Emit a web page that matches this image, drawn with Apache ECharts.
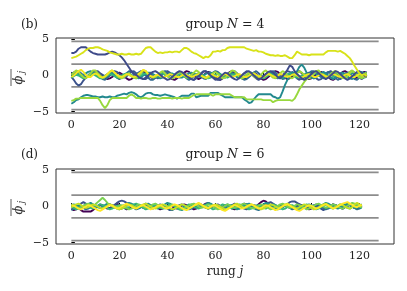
<!DOCTYPE html>
<html><head><meta charset="utf-8">
<script src="https://cdn.jsdelivr.net/npm/echarts@6/dist/echarts.min.js"></script>
<style>html,body{margin:0;padding:0;background:#fff}#c{width:407px;height:291px}</style>
</head><body><div id="c"></div>
<script>
const xTicks=[0,20,40,60,80,100,120];
const yTicks=[-5,0,5];
const refLevels=[-4.712,-1.571,1.571,4.712];
const refSpan=[0,128];

// ---- group N = 4 (rungs 0..123) ----
const n4_blue=[
3.1,3.1,3.3,3.7,3.9,3.9,3.9,3.6,3.3,3.1,
3.0,2.9,2.9,2.9,2.9,3.0,3.2,3.3,3.2,3.0,
2.8,2.5,2.1,1.6,1.1,0.6,0.2,0.1,-0.2,-0.4,
-0.5,-0.3,0,0.3,0.5,0.6,0.4,0.1,-0.2,-0.4,
-0.6,-0.5,-0.2,0.1,0.4,0.6,0.5,0.2,-0.1,-0.3,
-0.5,-0.6,-0.4,-0.1,0.2,0.5,0.6,0.3,0,-0.3,
-0.6,-0.5,-0.2,0.1,0.4,0.3,0,-0.3,-0.5,-0.6,
-0.3,0,0.3,0.5,0.6,0.3,0,-0.3,-0.5,-0.4,
-0.1,0.2,0.5,0.6,0.4,0.1,-0.2,-0.4,-0.1,0.3,
0.8,1.4,1.2,0.6,0.2,-0.1,-0.4,-0.6,-0.4,-0.1,
0.2,0.5,0.6,0.3,0,-0.3,-0.5,-0.3,0,0.3,
0.6,0.5,0.2,-0.1,-0.4,-0.6,-0.4,-0.1,0.2,0.5,
0.6,0.3,0,-0.2];
const n4_yellow=[
2.4,2.5,2.6,2.8,3.0,3.2,3.5,3.7,3.8,3.8,
3.9,3.9,3.8,3.6,3.5,3.4,3.2,3.1,3.0,2.9,
2.9,3.0,2.9,2.9,3.0,2.9,2.9,3.0,2.9,3.0,
3.4,3.8,3.9,3.9,3.6,3.3,3.1,3.2,3.1,3.2,
3.2,3.3,3.2,3.3,3.3,3.2,3.5,3.8,3.8,3.6,
3.3,3.1,3.0,2.8,2.6,2.4,2.6,2.5,2.8,3.3,
3.3,3.4,3.3,3.5,3.5,3.8,3.9,3.9,3.9,3.9,
3.9,3.9,3.9,3.7,3.6,3.5,3.4,3.5,3.3,3.3,
3.2,3.0,2.9,2.8,2.8,2.7,2.8,2.7,2.7,2.8,
2.6,2.4,2.4,2.8,3.3,3.1,2.9,2.9,2.9,2.8,
2.9,2.9,2.9,2.9,2.9,2.9,3.2,3.4,3.4,3.4,
3.4,3.3,3.4,3.2,3.0,2.7,2.4,1.9,1.3,0.8,
0.3,0.0,0.2,-0.1];
const n4_teal=[
-3.9,-3.7,-3.4,-3.3,-3.0,-2.8,-2.7,-2.7,-2.8,-2.9,
-2.9,-3.0,-3.0,-2.9,-3.0,-3.0,-2.9,-3.0,-3.0,-2.8,
-2.7,-2.6,-2.5,-2.6,-2.4,-2.3,-2.4,-2.6,-2.9,-3.0,
-2.8,-2.5,-2.4,-2.4,-2.6,-2.7,-2.7,-2.8,-2.7,-2.6,
-2.7,-2.8,-2.9,-3.0,-3.2,-3.0,-2.8,-2.8,-2.8,-2.8,
-2.5,-2.5,-3.0,-2.9,-2.8,-2.8,-2.8,-2.8,-2.4,-2.4,
-2.4,-2.4,-2.6,-2.8,-3.0,-3.0,-3.0,-3.0,-3.0,-3.0,
-3.0,-3.0,-3.3,-3.5,-3.8,-3.7,-3.3,-2.9,-2.6,-2.6,
-2.6,-2.6,-2.6,-2.6,-2.9,-3.0,-3.2,-3.0,-2.2,-1.3,
-0.6,-0.1,0.2,0.3,0.6,1.2,1.5,1.1,0.4,0.1,
-0.2,-0.4,-0.2,0.1,0.3,0.5,0.3,0,-0.3,-0.5,
-0.3,0,0.3,0.4,0.2,-0.1,-0.4,-0.5,-0.2,0.1,
0.4,0.5,0.2,-0.1];
const n4_green=[
-3.5,-3.4,-3.2,-3.2,-3.1,-3.1,-3.1,-3.1,-3.1,-3.1,
-3.1,-3.1,-3.5,-4.1,-4.5,-4.1,-3.4,-3.1,-3.1,-3.1,
-3.1,-3.1,-3.1,-3.1,-2.8,-2.6,-2.8,-3.1,-3.1,-3.2,
-3.1,-3.1,-3.2,-3.2,-3.1,-3.1,-3.2,-3.2,-3.1,-3.1,
-3.1,-3.1,-3.2,-3.1,-3.1,-3.1,-3.2,-3.1,-3.1,-3.1,
-2.9,-2.7,-2.6,-2.6,-2.6,-2.6,-2.6,-2.6,-2.6,-2.8,
-2.6,-2.6,-2.6,-2.6,-2.6,-2.6,-2.6,-2.8,-3.0,-3.0,
-3.0,-3.0,-3.0,-3.3,-3.3,-3.3,-3.3,-3.3,-3.3,-3.3,
-3.4,-3.4,-3.4,-3.4,-3.7,-3.5,-3.4,-3.4,-3.4,-3.4,
-3.4,-3.4,-3.5,-3.2,-2.6,-1.9,-1.4,-0.9,-0.5,-0.2,
0.1,0.4,0.6,0.4,0.1,-0.2,-0.4,-0.2,0.2,0.5,
0.6,0.3,0,-0.3,-0.4,-0.1,0.3,0.6,0.4,0.1,
-0.2,-0.4,-0.1,0.2];
const n4_c1=[
0.2,0.4,0.6,0.4,0.2,-0.1,-0.3,-0.2,0.1,0.3,
0.5,0.4,0.2,0,-0.3,-0.5,-0.4,-0.2,0.1,0.3,
0.4,0.2,-0.1,-0.4,-0.6,-0.5,-0.2,0,0.3,0.5,
0.6,0.4,0.1,-0.2,-0.4,-0.3,0,0.2,0.4,0.3,
0,-0.3,-0.5,-0.6,-0.4,-0.1,0.2,0.4,0.6,0.5,
0.2,0,-0.3,-0.5,-0.3,0,0.3,0.5,0.4,0.1,
-0.2,-0.5,-0.6,-0.4,-0.1,0.2,0.5,0.6,0.4,0.1,
-0.1,-0.4,-0.5,-0.3,0,0.3,0.4,0.2,-0.1,-0.4,
-0.6,-0.5,-0.2,0.1,0.4,0.6,0.5,0.2,-0.1,-0.3,
-0.5,-0.4,-0.1,0.2,0.5,0.6,0.3,0,-0.3,-0.5,
-0.4,-0.1,0.2,0.4,0.5,0.3,0,-0.2,-0.5,-0.6,
-0.4,-0.1,0.2,0.5,0.6,0.4,0.1,-0.2,-0.4,-0.3,
0,0.3,0.5,0.4];
const n4_c2=[
-0.2,-0.6,-1.1,-1.4,-1.2,-0.7,-0.3,0,0.3,0.5,
0.6,0.6,0.3,0.1,-0.2,-0.2,0.1,0.4,0.6,0.5,
0.2,-0.1,-0.3,-0.1,0.2,0.5,0.6,0.3,0,-0.3,
-0.5,-0.5,-0.2,0.1,0.1,-0.2,-0.4,-0.2,0.2,0.5,
0.6,0.4,0.1,-0.2,-0.3,-0.1,0.2,0.3,0.1,-0.2,
-0.5,-0.6,-0.3,0,0.3,0.6,0.6,0.3,0.1,-0.2,
-0.4,-0.6,-0.6,-0.3,0,0.2,0.4,0.4,0.1,-0.2,
-0.3,0,0.3,0.6,0.5,0.2,-0.1,-0.4,-0.6,-0.4,
-0.1,0.2,0.4,0.3,0,-0.3,-0.4,-0.2,0.1,0.3,
0.6,0.5,0.2,-0.1,-0.4,-0.6,-0.3,0,0.3,0.4,
0.2,-0.1,-0.4,-0.6,-0.5,-0.2,0.1,0.4,0.6,0.4,
0.1,-0.2,-0.5,-0.3,0,0.3,0.5,0.6,0.3,0,
-0.3,-0.5,-0.2,0.1];
const n4_c3=[
0.4,0.3,0.5,0.6,0.3,0,-0.2,0,0.3,0.6,
0.4,0.1,-0.2,-0.5,-0.6,-0.3,0,0.2,0,-0.3,
-0.5,-0.3,0,0.3,0.6,0.6,0.3,0.2,0.4,0.6,
0.3,0,-0.3,-0.6,-0.6,-0.3,-0.1,0.2,0.5,0.6,
0.4,0.1,-0.1,0.1,0.4,0.5,0.2,-0.1,-0.4,-0.6,
-0.4,-0.1,0.2,0.2,-0.1,-0.4,-0.5,-0.2,0.1,0.4,
0.6,0.5,0.2,-0.1,-0.3,-0.1,0.2,0.5,0.6,0.3,
0,-0.3,-0.6,-0.5,-0.2,0.1,0.4,0.6,0.3,0,
-0.2,-0.1,0.2,0.5,0.6,0.4,0.1,-0.2,-0.5,-0.4,
-0.1,0.2,0.5,0.3,0,-0.3,-0.5,-0.3,0,0.3,
0.6,0.6,0.3,0,-0.2,0,0.3,0.5,0.3,0,
-0.3,-0.6,-0.4,-0.1,0.2,0.4,0.1,-0.2,-0.5,-0.6,
-0.3,0,0.3,0.5];
const n4_c4=[
0,0.2,0.3,0.2,0,0.1,0.3,0.5,0.6,0.4,
0.2,0,-0.2,-0.2,0,0.2,0.4,0.3,0.1,-0.1,
-0.3,-0.2,0,0.2,0.3,0.1,-0.1,-0.3,-0.4,-0.2,
0,0.2,0.4,0.4,0.2,0,-0.2,-0.4,-0.3,-0.1,
0.1,0.3,0.3,0.1,-0.1,-0.3,-0.3,-0.1,0.1,0.3,
0.4,0.3,0.1,-0.1,-0.2,0,0.2,0.4,0.4,0.2,
0,-0.2,-0.3,-0.2,0,0.2,0.3,0.2,0,-0.2,
-0.4,-0.3,-0.1,0.1,0.3,0.4,0.2,0,-0.2,-0.3,
-0.1,0.1,0.3,0.4,0.3,0.1,-0.1,-0.3,-0.4,-0.2,
0,0.2,0.4,0.3,0.1,-0.1,-0.3,-0.2,0,0.2,
0.3,0.4,0.2,0,-0.2,-0.4,-0.3,-0.1,0.1,0.3,
0.4,0.2,0,-0.2,-0.3,-0.1,0.1,0.3,0.4,0.2,
0,-0.2,-0.1,0.1];
const n4_c5=[
-0.3,-0.1,0.1,0,-0.2,-0.4,-0.3,-0.1,0.1,0.2,
0,-0.2,-0.4,-0.4,-0.2,0,0.2,0.1,-0.1,-0.3,
-0.2,0,0.2,0.3,0.1,-0.1,-0.3,-0.4,-0.2,0,
0.2,0.3,0.1,-0.1,-0.3,-0.2,0,0.2,0.3,0.1,
-0.1,-0.3,-0.4,-0.2,0,0.2,0.1,-0.1,-0.3,-0.4,
-0.2,0,0.2,0.3,0.2,0,-0.2,-0.4,-0.3,-0.1,
0.1,0.3,0.2,0,-0.2,-0.3,-0.1,0.1,0.2,0,
-0.2,-0.4,-0.3,-0.1,0.1,0.3,0.3,0.1,-0.1,-0.3,
-0.4,-0.2,0,0.2,0.1,-0.1,-0.3,-0.4,-0.2,0,
0.2,0.3,0.1,-0.1,-0.3,-0.2,0,0.2,0.1,-0.1,
-0.3,-0.4,-0.2,0,0.2,0.3,0.1,-0.1,-0.3,-0.2,
0,0.2,0.3,0.1,-0.1,-0.3,-0.4,-0.2,0,0.2,
0.1,-0.1,-0.3,-0.2];
const n4_c6=[
0.1,0.4,0.7,0.5,0.1,-0.2,-0.4,-0.1,0.3,0.7,
0.7,0.3,0,-0.3,-0.2,0.1,0.5,0.7,0.4,0,
-0.3,-0.4,-0.2,0.1,0.3,0,-0.3,-0.4,-0.1,0.3,
0.7,0.6,0.2,-0.1,-0.3,-0.2,0.1,0.4,0.6,0.3,
-0.1,-0.3,-0.4,-0.2,0.2,0.5,0.3,0,-0.3,-0.2,
0.1,0.4,0.7,0.5,0.1,-0.2,-0.4,-0.3,0,0.3,
0.5,0.2,-0.1,-0.4,-0.3,0,0.4,0.7,0.6,0.2,
-0.2,-0.4,-0.2,0.1,0.4,0.2,-0.1,-0.4,-0.3,0.1,
0.5,0.7,0.4,0,-0.3,-0.4,-0.1,0.3,0.6,0.4,
0,-0.3,-0.4,-0.1,0.3,0.6,0.4,0.1,-0.2,-0.4,
-0.2,0.2,0.6,0.7,0.3,-0.1,-0.4,-0.3,0,0.4,
0.6,0.3,-0.1,-0.4,-0.2,0.1,0.5,0.7,0.4,0,
-0.3,-0.1,0.2,0.4];
const n4_c7=[
-0.2,0,0.3,0.6,0.8,0.5,0.1,-0.2,-0.2,0.1,
0.3,0.1,-0.2,-0.3,-0.1,0.2,0.5,0.7,0.4,0.1,
-0.1,-0.2,0,0.2,0.1,-0.1,-0.2,-0.1,0.2,0.5,
0.8,0.6,0.2,-0.1,-0.2,0,0.1,-0.1,-0.2,-0.2,
0,0.2,0.1,-0.1,-0.2,-0.2,0,0.2,0.1,-0.1,
-0.2,-0.1,0.1,0.2,0,-0.2,-0.3,-0.1,0.1,0.1,
-0.1,-0.2,-0.2,0,0.2,0.1,-0.1,-0.2,-0.1,0.1,
0.2,0,-0.2,-0.2,0,0.2,0.3,0.1,-0.1,-0.2,
-0.2,0,0.2,0.1,-0.1,-0.2,0,0.2,0.1,-0.1,
-0.2,-0.1,0.1,0.2,0,-0.2,-0.3,-0.1,0.1,0.2,
0,-0.2,-0.2,0,0.2,0.1,-0.1,-0.2,0,0.2,
0.1,-0.1,-0.2,-0.1,0.1,0.2,0,-0.2,-0.2,0,
0.2,0.1,-0.1,-0.2];

// ---- group N = 6 (rungs 0..121) ----
const n6_d1=[
-0.3,-0.5,-0.4,-0.2,-0.5,-0.7,-0.7,-0.7,-0.7,-0.5,
-0.2,0,0.2,0.1,-0.1,-0.3,-0.2,0,0.2,0.4,
0.2,0,-0.2,-0.4,-0.3,-0.1,0.1,0.3,0.2,0,
-0.2,-0.3,-0.1,0.1,0.2,0,-0.2,-0.4,-0.3,-0.1,
0.1,0.2,0,-0.2,-0.3,-0.1,0.1,0.3,0.2,0,
-0.2,-0.4,-0.3,-0.1,0.1,0.2,0.4,0.5,0.3,0.1,
-0.1,-0.3,-0.2,0,0.2,0.1,-0.1,-0.3,-0.4,-0.2,
0,0.2,0.4,0.3,0.1,-0.1,-0.2,0,0.3,0.6,
0.8,0.7,0.4,0.2,0,-0.2,-0.3,-0.1,0.1,0.2,
0,-0.2,-0.3,-0.1,0.1,0.3,0.2,0,-0.2,-0.4,
-0.3,-0.1,0.1,0.2,0,-0.2,-0.3,-0.1,0.1,0.3,
0.2,0,-0.2,-0.3,-0.1,0.1,0.2,0,-0.2,-0.3,
-0.1,0.1];
const n6_d2=[
0.3,0.1,-0.1,0.1,0.4,0.6,0.4,0.2,0,-0.2,
-0.1,0.1,0.3,0.2,0,-0.2,-0.3,-0.1,0.2,0.5,
0.7,0.8,0.7,0.5,0.3,0.1,-0.1,-0.3,-0.2,0,
0.2,0.4,0.3,0.1,-0.1,-0.2,0,0.2,0.1,-0.1,
-0.3,-0.5,-0.4,-0.2,0,0.2,0.3,0.1,-0.1,-0.3,
-0.2,0,0.2,0.4,0.3,0.1,-0.1,-0.3,-0.2,0,
0.2,0.3,0.1,-0.1,-0.3,-0.2,0,0.2,0.4,0.3,
0.1,-0.1,-0.3,-0.4,-0.2,0,0.2,0.1,-0.1,-0.2,
0,0.2,0.5,0.6,0.4,0.2,0,-0.2,-0.1,0.1,
0.3,0.6,0.7,0.7,0.5,0.3,0.1,-0.1,-0.3,-0.2,
0,0.2,0.1,-0.1,-0.3,-0.5,-0.3,-0.1,0.1,0.3,
0.2,0,-0.2,-0.1,0.1,0.3,0.2,0,-0.2,-0.3,
-0.1,0.1];
const n6_d3=[
-0.5,-0.3,-0.1,0.1,0,-0.2,-0.4,-0.3,-0.1,0.1,
0.2,0,-0.2,-0.3,-0.1,0.1,0.3,0.2,0,-0.2,
-0.4,-0.3,-0.1,0.1,0.2,0,-0.2,-0.4,-0.3,-0.1,
0.1,0.2,0,-0.2,-0.3,-0.1,0.1,0.3,0.2,0,
-0.2,-0.4,-0.5,-0.3,-0.1,0.1,0.2,0,-0.2,-0.4,
-0.3,-0.1,0.1,0.3,0.2,0,-0.2,-0.3,-0.1,0.1,
0.2,0,-0.2,-0.4,-0.3,-0.1,0.1,0.2,0,-0.2,
-0.3,-0.1,0.1,0.3,0.2,0,-0.2,-0.4,-0.5,-0.3,
-0.1,0.1,0.2,0,-0.2,-0.3,-0.1,0.1,0.3,0.2,
0,-0.2,-0.4,-0.3,-0.1,0.1,0.2,0,-0.2,-0.3,
-0.1,0.1,0.3,0.2,0,-0.2,-0.4,-0.3,-0.1,0.1,
0.2,0,-0.2,-0.3,-0.1,0.1,0.2,0,-0.2,-0.4,
-0.3,-0.1];
const n6_d4=[
0.1,0.3,0.2,0,-0.2,-0.1,0.1,0.3,0.5,0.3,
0.1,-0.1,-0.2,0,0.2,0.4,0.3,0.1,-0.1,-0.3,
-0.2,0,0.2,0.3,0.5,0.4,0.2,0,-0.2,-0.1,
0.1,0.3,0.4,0.2,0,-0.2,-0.3,-0.1,0.1,0.3,
0.5,0.4,0.2,0,-0.2,-0.4,-0.5,-0.3,-0.1,0.1,
0.3,0.2,0,-0.2,-0.1,0.1,0.3,0.5,0.4,0.2,
0,-0.2,-0.3,-0.1,0.1,0.3,0.2,0,-0.2,-0.4,
-0.3,-0.1,0.1,0.3,0.4,0.2,0,-0.2,-0.1,0.1,
0.3,0.5,0.4,0.2,0,-0.2,-0.4,-0.3,-0.1,0.1,
0.3,0.2,0,-0.2,-0.4,-0.5,-0.3,-0.1,0.1,0.3,
0.2,0,-0.2,-0.1,0.1,0.3,0.5,0.4,0.2,0,
-0.2,-0.3,-0.1,0.1,0.3,0.4,0.2,0,-0.2,-0.1,
0.1,0.3];
const n6_d5=[
0,-0.2,-0.4,-0.3,-0.1,0.1,0.2,0,-0.2,-0.3,
-0.1,0.1,0.3,0.2,0,-0.2,-0.4,-0.3,-0.1,0.1,
0.2,0,-0.2,-0.3,-0.1,0.1,0.3,0.4,0.2,0,
-0.2,-0.4,-0.3,-0.1,0.1,0.2,0,-0.2,-0.3,-0.1,
0.1,0.3,0.2,0,-0.2,-0.4,-0.3,-0.1,0.1,0.3,
0.2,0,-0.2,-0.3,-0.1,0.1,0.2,0,-0.2,-0.4,
-0.3,-0.1,0.1,0.3,0.2,0,-0.2,-0.3,-0.1,0.1,
0.3,0.2,0,-0.2,-0.4,-0.3,-0.1,0.1,0.2,0,
-0.2,-0.3,-0.1,0.1,0.3,0.2,0,-0.2,-0.4,-0.3,
-0.1,0.1,0.2,0,-0.2,-0.3,-0.1,0.1,0.3,0.2,
0,-0.2,-0.4,-0.3,-0.1,0.1,0.2,0,-0.2,-0.3,
-0.1,0.1,0.3,0.2,0,-0.2,-0.3,-0.1,0.1,0.2,
0,-0.2];
const n6_d6=[
0.3,0.2,0,-0.2,-0.1,0.1,0.3,0.4,0.2,0.1,
0.3,0.6,0.9,1.2,0.9,0.5,0.2,0,-0.2,-0.1,
0.1,0.2,0,-0.2,-0.4,-0.3,-0.1,0.1,0.3,0.2,
0,-0.2,-0.1,0.1,0.3,0.4,0.2,0,-0.2,-0.3,
-0.1,0.1,0.3,0.2,0,-0.2,-0.4,-0.3,-0.1,0.1,
0.3,0.4,0.2,0,-0.2,-0.1,0.1,0.3,0.2,0,
-0.2,-0.4,-0.3,-0.1,0.1,0.3,0.2,0,-0.2,-0.1,
0.1,0.3,0.4,0.2,0,-0.2,-0.3,-0.1,0.1,0.3,
0.2,0,-0.2,-0.4,-0.3,-0.1,0.1,0.3,0.4,0.2,
0,-0.2,-0.1,0.1,0.3,0.2,0,-0.2,-0.4,-0.3,
-0.1,0.1,0.3,0.4,0.2,0,-0.2,-0.1,0.1,0.3,
0.2,0,-0.2,-0.3,-0.1,0.1,0.3,0.5,0.4,0.2,
0,-0.1];
const n6_d7=[
0.2,0.1,-0.1,-0.3,-0.4,-0.2,0,0.2,0.1,-0.1,
-0.3,-0.5,-0.6,-0.4,-0.2,0,0.2,0.1,-0.1,-0.3,
-0.2,0,0.2,0.4,0.2,0,-0.2,-0.3,-0.1,0.1,
0.2,0,-0.2,-0.4,-0.3,-0.1,0.1,0.2,0,-0.2,
-0.3,-0.1,0.1,0.3,0.2,0,-0.2,-0.4,-0.5,-0.3,
-0.1,0.1,0.3,0.5,0.3,0.1,-0.1,-0.2,0,0.2,
0.1,-0.1,-0.3,-0.5,-0.6,-0.4,-0.2,0,0.2,0.1,
-0.1,-0.3,-0.2,0,0.2,0.3,0.1,-0.1,-0.3,-0.2,
0,0.2,0.1,-0.1,-0.3,-0.5,-0.4,-0.2,0,0.2,
0.3,0.1,-0.1,-0.3,-0.5,-0.6,-0.4,-0.2,0,0.2,
0.1,-0.1,-0.3,-0.2,0,0.2,0.3,0.1,-0.1,-0.3,
-0.2,0,0.2,0.4,0.5,0.6,0.4,0.2,0,-0.1,
0.1,0.2];
const n6_d8=[
-0.1,0.1,0.3,0.4,0.2,0,-0.2,-0.1,0.1,0.3,
0.2,0,-0.2,-0.3,-0.1,0.1,0.3,0.2,0,-0.2,
-0.4,-0.3,-0.1,0.1,0.3,0.2,0,-0.2,-0.1,0.1,
0.3,0.4,0.2,0,-0.2,-0.3,-0.1,0.1,0.3,0.2,
0,-0.2,-0.4,-0.3,-0.1,0.1,0.3,0.2,0,-0.2,
-0.1,0.1,0.3,0.4,0.2,0,-0.2,-0.3,-0.1,0.1,
0.3,0.2,0,-0.2,-0.4,-0.3,-0.1,0.1,0.3,0.4,
0.2,0,-0.2,-0.1,0.1,0.3,0.2,0,-0.2,-0.4,
-0.3,-0.1,0.1,0.3,0.2,0,-0.2,-0.1,0.1,0.3,
0.4,0.2,0,-0.2,-0.3,-0.1,0.1,0.3,0.2,0,
-0.2,-0.4,-0.3,-0.1,0.1,0.3,0.4,0.2,0,-0.2,
-0.1,0.1,0.3,0.2,0,-0.2,-0.3,-0.1,0.3,0.5,
0.3,0.1];

const n4Lines=[n4_c1,n4_c2,n4_c3,n4_c4,n4_c5,n4_c6,n4_teal,n4_green,n4_c7,n4_blue,n4_yellow];
const n4Colors=['#440154','#3b528b','#31688e','#21918c','#35b779','#a0da39','#23898e','#98d83e','#f2e51d','#3e4a89','#d8e219'];
const n6Lines=[n6_d1,n6_d2,n6_d3,n6_d4,n6_d5,n6_d6,n6_d8,n6_d7];
const n6Colors=['#440154','#3b528b','#2c728e','#21918c','#35b779','#7ad151','#c2df23','#fde725'];

const FONT='"DejaVu Serif", serif';
const chart=echarts.init(document.getElementById('c'),null,{renderer:'canvas'});
function mkLine(arr,color,gi){
  return {type:'line',xAxisIndex:gi,yAxisIndex:gi,data:arr.map((v,j)=>[j,v]),symbol:'none',showSymbol:false,
    lineStyle:{color:color,width:1.9},itemStyle:{color:color},silent:true,animation:false,z:3};
}
function refSeries(gi){
  return refLevels.map(v=>({type:'line',xAxisIndex:gi,yAxisIndex:gi,data:[[refSpan[0],v],[refSpan[1],v]],symbol:'none',
    lineStyle:{color:'#8c8c8c',width:1.7},silent:true,animation:false,z:2}));
}
const fmt=v=>(v<0?'\u2212'+Math.abs(v):String(v));
function xAx(gi){
  return {type:'value',gridIndex:gi,min:-6.4,max:134.4,axisLine:{show:false},splitLine:{show:false},
    axisTick:{show:true,inside:true,length:3.5,lineStyle:{color:'#000',width:1},customValues:xTicks},
    axisLabel:{customValues:xTicks,formatter:fmt,fontFamily:FONT,fontSize:11,color:'#222',margin:7}};
}
function yAx(gi){
  return {type:'value',gridIndex:gi,min:-5.18,max:5.18,axisLine:{show:false},splitLine:{show:false},
    axisTick:{show:true,inside:true,length:3.5,lineStyle:{color:'#000',width:1},customValues:yTicks},
    axisLabel:{customValues:yTicks,formatter:fmt,fontFamily:FONT,fontSize:11,color:'#222',margin:7}};
}
function ylabel(cy){
  return {type:'group',x:19,y:cy,rotation:Math.PI/2,children:[
    {type:'text',x:-4,y:0,style:{text:'\u03D5',font:'italic 13px '+FONT,fill:'#333',align:'center',verticalAlign:'middle'}},
    {type:'text',x:4,y:3,style:{text:'j',font:'italic 9px '+FONT,fill:'#333',align:'center',verticalAlign:'middle'}},
    {type:'line',shape:{x1:-10,y1:-8,x2:7,y2:-8},style:{stroke:'#333',lineWidth:0.8}}
  ]};
}
function title(cy,n){
  return {type:'text',x:225,y:cy,style:{text:'{r|group }{i|N}{r| = '+n+'}',align:'center',verticalAlign:'middle',
    rich:{r:{font:'12.5px '+FONT,fill:'#222'},i:{font:'italic 12.5px '+FONT,fill:'#222'}}}};
}
const series=[...refSeries(0),...n4Lines.map((a,i)=>mkLine(a,n4Colors[i],0)),
              ...refSeries(1),...n6Lines.map((a,i)=>mkLine(a,n6Colors[i],1))];
chart.setOption({
  animation:false,
  backgroundColor:'#fff',
  grid:[
    {left:56,top:38,width:338,height:75,show:true,borderColor:'#333',borderWidth:1,backgroundColor:'transparent'},
    {left:56,top:169,width:338,height:75,show:true,borderColor:'#333',borderWidth:1,backgroundColor:'transparent'}
  ],
  xAxis:[xAx(0),xAx(1)],
  yAxis:[yAx(0),yAx(1)],
  series:series,
  graphic:[
    title(25,4),title(155,6),
    {type:'text',x:21,y:25,style:{text:'(b)',font:'12px '+FONT,fill:'#222',verticalAlign:'middle'}},
    {type:'text',x:21,y:155,style:{text:'(d)',font:'12px '+FONT,fill:'#222',verticalAlign:'middle'}},
    ylabel(76),ylabel(206),
    {type:'text',x:225,y:272,style:{rich:{r:{font:'12px '+FONT,fill:'#222'},i:{font:'italic 12px '+FONT,fill:'#222'}},text:'{r|rung }{i|j}',align:'center',verticalAlign:'middle'}}
  ]
});
</script></body></html>
